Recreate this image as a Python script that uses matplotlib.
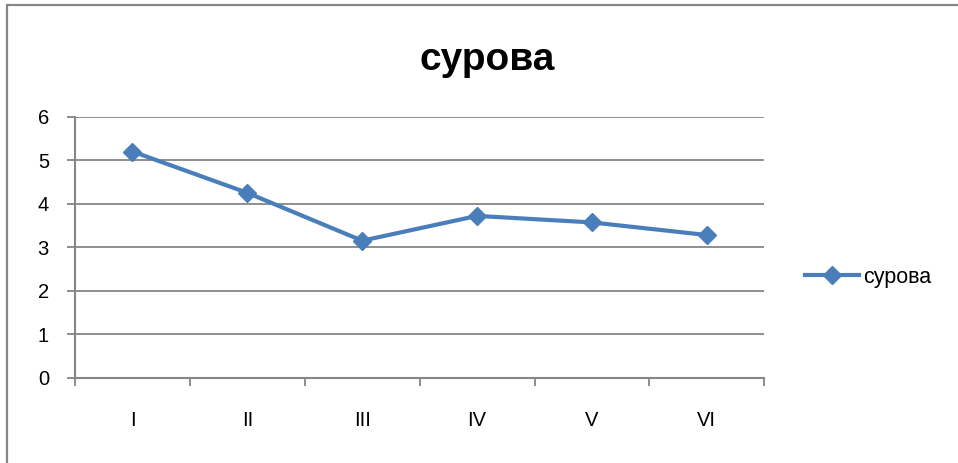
import matplotlib
matplotlib.use("Agg")
import matplotlib.pyplot as plt
from matplotlib.patches import Rectangle
import numpy as np

plt.rcParams['font.family'] = ['Liberation Sans', 'DejaVu Sans']

categories = ['I', 'II', 'III', 'IV', 'V', 'VI']
values = [5.2, 4.25, 3.15, 3.72, 3.57, 3.28]
series_name = 'сурова'
title = 'сурова'

blue = '#4A7EBB'
grey = '#868686'

fig = plt.figure(figsize=(9.58, 4.63), dpi=100)
ax = fig.add_axes([0.0783, 0.1842, 0.7195, 0.5637])

# chart frame (Excel chart area border)
fig.patches.append(Rectangle((7 / 958, -0.1), 1.2, (463 - 5) / 463 + 0.1,
                             transform=fig.transFigure, fill=False,
                             edgecolor=grey, linewidth=1.6))

x = np.arange(len(categories)) + 0.5
ax.plot(x, values, color=blue, linewidth=3, marker='D', markersize=9,
        label=series_name, zorder=3)

ax.set_xlim(0, len(categories))
ax.set_ylim(0, 6)
ax.set_yticks(range(0, 7))
ax.yaxis.grid(True, color=grey, linewidth=1.3)
ax.set_axisbelow(True)

ax.set_xticks(range(0, len(categories) + 1))
ax.set_xticklabels([])
ax.set_xticks(x, minor=True)
ax.set_xticklabels(categories, minor=True)
ax.tick_params(axis='x', which='major', direction='out', length=5.5,
               width=1.3, color=grey)
ax.tick_params(axis='x', which='minor', length=0, pad=24, labelsize=14.5)
ax.tick_params(axis='y', direction='out', length=5.8, width=1.3, color=grey,
               pad=13, labelsize=14.5)

for s in ['top', 'right']:
    ax.spines[s].set_visible(False)
for s in ['left', 'bottom']:
    ax.spines[s].set_color(grey)
    ax.spines[s].set_linewidth(1.5)

fig.text(487 / 958, (463 - 70) / 463, title, ha='center', va='baseline',
         fontsize=28, fontweight='bold')

ax.legend(loc='center left', bbox_to_anchor=(805 / 958, (463 - 277) / 463),
          bbox_transform=fig.transFigure, frameon=False, fontsize=15.5,
          handlelength=2.5, handletextpad=0.2, borderpad=0, borderaxespad=0)

fig.savefig('out.png', dpi=100)
